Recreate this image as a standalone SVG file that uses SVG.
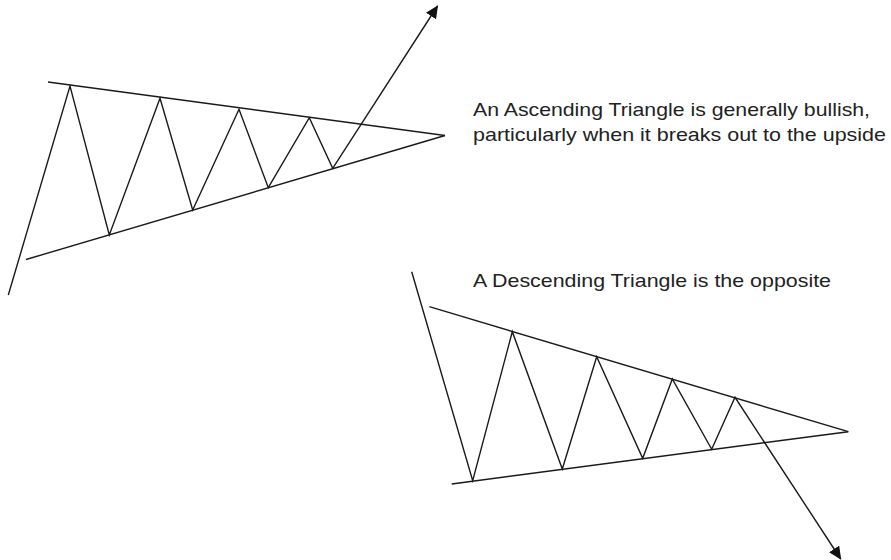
<svg xmlns="http://www.w3.org/2000/svg" width="891" height="560" viewBox="0 0 891 560">
<style>
.ln{fill:none;stroke:#1a1a1a;stroke-width:1.4;stroke-linejoin:miter}
.tx{font-family:"Liberation Sans",Arial,sans-serif;font-size:18.5px;fill:#222}
</style>
<defs>
<marker id="ah" viewBox="0 0 13 12" refX="12" refY="6" markerWidth="13" markerHeight="12" markerUnits="userSpaceOnUse" orient="auto">
<path d="M0,0 L13,6 L0,12 Z" fill="#111"/>
</marker>
</defs>
<rect width="891" height="560" fill="#fff"/>
<g id="ascending">
<line class="ln" x1="48" y1="82" x2="445" y2="135.5"/>
<line class="ln" x1="26" y1="259.5" x2="445" y2="135.5"/>
<polyline class="ln" points="8.3,295 70,86 109.3,235 160,98.3 192.7,210 239,109.3 268.3,187.7 309.3,117.7 332.7,168.3 437.5,6" marker-end="url(#ah)"/>
</g>
<g id="descending">
<line class="ln" x1="429.3" y1="306.7" x2="848.3" y2="431.7"/>
<line class="ln" x1="451.7" y1="484" x2="848.3" y2="431.7"/>
<polyline class="ln" points="411.7,271.7 472.7,480.7 512.3,331.7 562.3,469 596.7,356.7 642.7,458.3 672.3,379 711.7,449.3 735,397.3 840.7,559" marker-end="url(#ah)"/>
</g>
<g id="labels">
<text class="tx" x="473" y="115.5" textLength="397" lengthAdjust="spacingAndGlyphs">An Ascending Triangle is generally bullish,</text>
<text class="tx" x="473" y="141" textLength="413" lengthAdjust="spacingAndGlyphs">particularly when it breaks out to the upside</text>
<text class="tx" x="473" y="287" textLength="358" lengthAdjust="spacingAndGlyphs">A Descending Triangle is the opposite</text>
</g>
</svg>
